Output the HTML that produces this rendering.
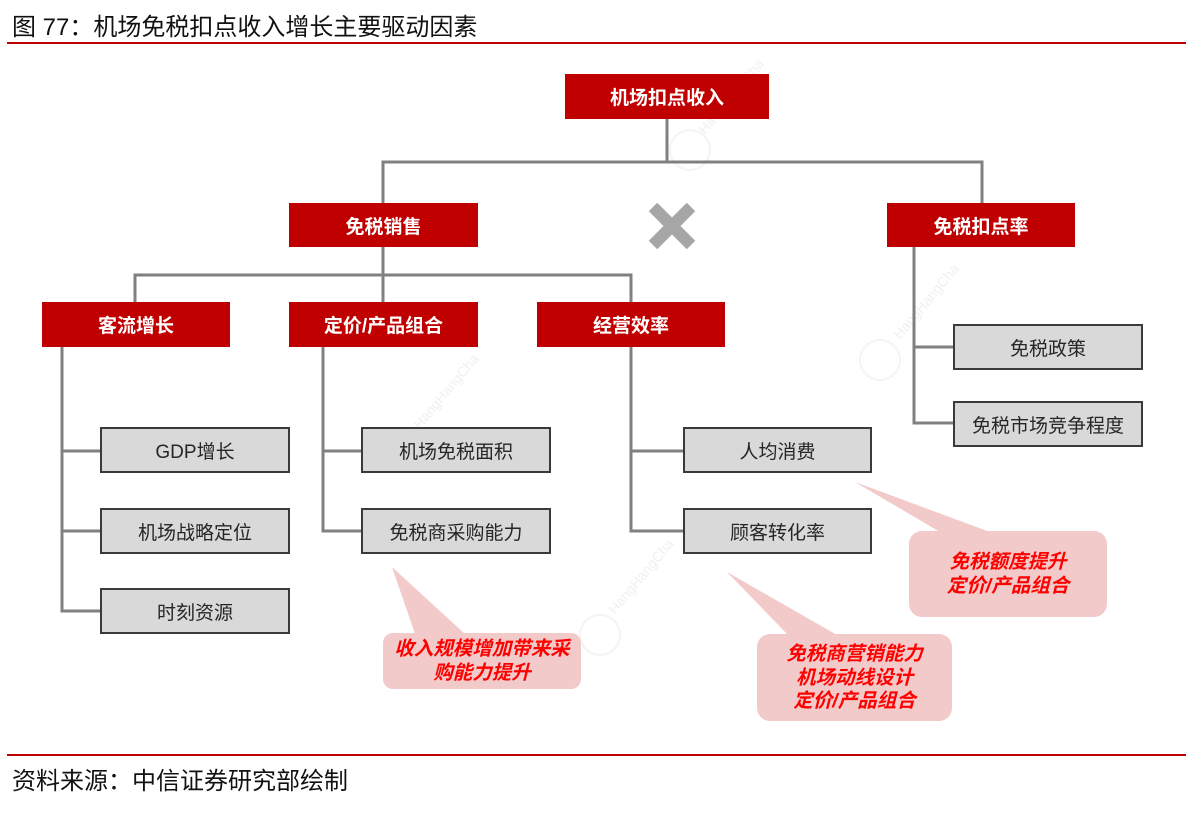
<!DOCTYPE html>
<html>
<head>
<meta charset="utf-8">
<style>
  html, body { margin:0; padding:0; background:#fff; }
  body { width:1193px; height:824px; position:relative; overflow:hidden;
         font-family:"Liberation Sans","Noto Sans CJK SC",sans-serif; }
  .abs { position:absolute; }
  .title { left:12px; top:15px; font-size:24px; line-height:26px; color:#111; white-space:nowrap; }
  .foot { left:12px; top:769px; font-size:24px; line-height:26px; color:#111; white-space:nowrap; }
  .red { position:absolute; background:#c00000; color:#fff; font-weight:bold; font-size:19px;
         display:flex; align-items:center; justify-content:center; white-space:nowrap; }
  .gray { position:absolute; background:#d9d9d9; border:2px solid #3a3a3a; box-sizing:border-box;
          color:#262626; font-size:19px; display:flex; align-items:center; justify-content:center; white-space:nowrap; }
  .call { position:absolute; color:#ff0000; font-weight:bold; font-style:italic; font-size:19.5px;
          line-height:23.5px; text-align:center; white-space:nowrap; }
</style>
</head>
<body>

<svg class="abs" style="left:0;top:0" width="1193" height="824">
  <!-- rules -->
  <rect x="7" y="42" width="1179" height="2" fill="#c00000"/>
  <rect x="7" y="754" width="1179" height="2" fill="#c00000"/>

  <!-- watermarks (faint) -->
  <g fill="none" stroke="#f4f4f4" stroke-width="2">
    <circle cx="690" cy="150" r="20"/>
    <circle cx="400" cy="450" r="20"/>
    <circle cx="880" cy="360" r="20"/>
    <circle cx="600" cy="635" r="20"/>
  </g>
  <g font-family="Liberation Sans, sans-serif" font-size="14" fill="#f0f0f0">
    <text x="0" y="0" transform="translate(705,135) rotate(-50)">HangHangCha</text>
    <text x="0" y="0" transform="translate(420,430) rotate(-50)">HangHangCha</text>
    <text x="0" y="0" transform="translate(900,340) rotate(-50)">HangHangCha</text>
    <text x="0" y="0" transform="translate(615,615) rotate(-50)">HangHangCha</text>
  </g>

  <!-- connectors -->
  <g stroke="#808080" stroke-width="3" fill="none" stroke-linejoin="miter">
    <line x1="667" y1="119" x2="667" y2="162"/>
    <polyline points="383,203 383,162 982,162 982,203"/>
    <line x1="383" y1="247" x2="383" y2="302"/>
    <polyline points="135,302 135,275 631,275 631,302"/>
    <!-- 客流增长 -->
    <polyline points="62,347 62,611 100,611"/>
    <line x1="62" y1="451" x2="100" y2="451"/>
    <line x1="62" y1="531" x2="100" y2="531"/>
    <!-- 定价 -->
    <polyline points="323,347 323,531 362,531"/>
    <line x1="323" y1="451" x2="362" y2="451"/>
    <!-- 经营效率 -->
    <polyline points="631,347 631,531 683,531"/>
    <line x1="631" y1="451" x2="683" y2="451"/>
    <!-- 免税扣点率 -->
    <polyline points="914,247 914,423 953,423"/>
    <line x1="914" y1="347" x2="953" y2="347"/>
  </g>

  <!-- X mark -->
  <g stroke="#a6a6a6" stroke-width="12" stroke-linecap="butt">
    <line x1="653" y1="207" x2="691" y2="245"/>
    <line x1="691" y1="207" x2="653" y2="245"/>
  </g>

  <!-- callouts -->
  <g fill="#f3caca">
    <rect x="909" y="531" width="198" height="86" rx="13"/>
    <polygon points="855,482 940,532 990,532"/>
    <rect x="383" y="633" width="198" height="56" rx="10"/>
    <polygon points="392,567 415,634 465,634"/>
    <rect x="757" y="634" width="195" height="87" rx="13"/>
    <polygon points="727,572 788,635 837,635"/>
  </g>
</svg>

<div class="abs title">图 77：机场免税扣点收入增长主要驱动因素</div>
<div class="abs foot">资料来源：中信证券研究部绘制</div>

<!-- red boxes -->
<div class="red" style="left:565px;top:74px;width:204px;height:45px;">机场扣点收入</div>
<div class="red" style="left:289px;top:203px;width:189px;height:44px;">免税销售</div>
<div class="red" style="left:887px;top:203px;width:188px;height:44px;">免税扣点率</div>
<div class="red" style="left:42px;top:302px;width:188px;height:45px;">客流增长</div>
<div class="red" style="left:289px;top:302px;width:189px;height:45px;">定价/产品组合</div>
<div class="red" style="left:537px;top:302px;width:188px;height:45px;">经营效率</div>

<!-- gray boxes -->
<div class="gray" style="left:100px;top:427px;width:190px;height:46px;">GDP增长</div>
<div class="gray" style="left:100px;top:508px;width:190px;height:46px;">机场战略定位</div>
<div class="gray" style="left:100px;top:588px;width:190px;height:46px;">时刻资源</div>
<div class="gray" style="left:361px;top:427px;width:190px;height:46px;">机场免税面积</div>
<div class="gray" style="left:361px;top:508px;width:190px;height:46px;">免税商采购能力</div>
<div class="gray" style="left:683px;top:427px;width:189px;height:46px;">人均消费</div>
<div class="gray" style="left:683px;top:508px;width:189px;height:46px;">顾客转化率</div>
<div class="gray" style="left:953px;top:324px;width:190px;height:46px;">免税政策</div>
<div class="gray" style="left:953px;top:401px;width:190px;height:46px;">免税市场竞争程度</div>

<!-- callout text -->
<div class="call" style="left:909px;top:551px;width:198px;">免税额度提升<br>定价/产品组合</div>
<div class="call" style="left:383px;top:638px;width:198px;">收入规模增加带来采<br>购能力提升</div>
<div class="call" style="left:757px;top:643px;width:195px;">免税商营销能力<br>机场动线设计<br>定价/产品组合</div>

</body>
</html>
